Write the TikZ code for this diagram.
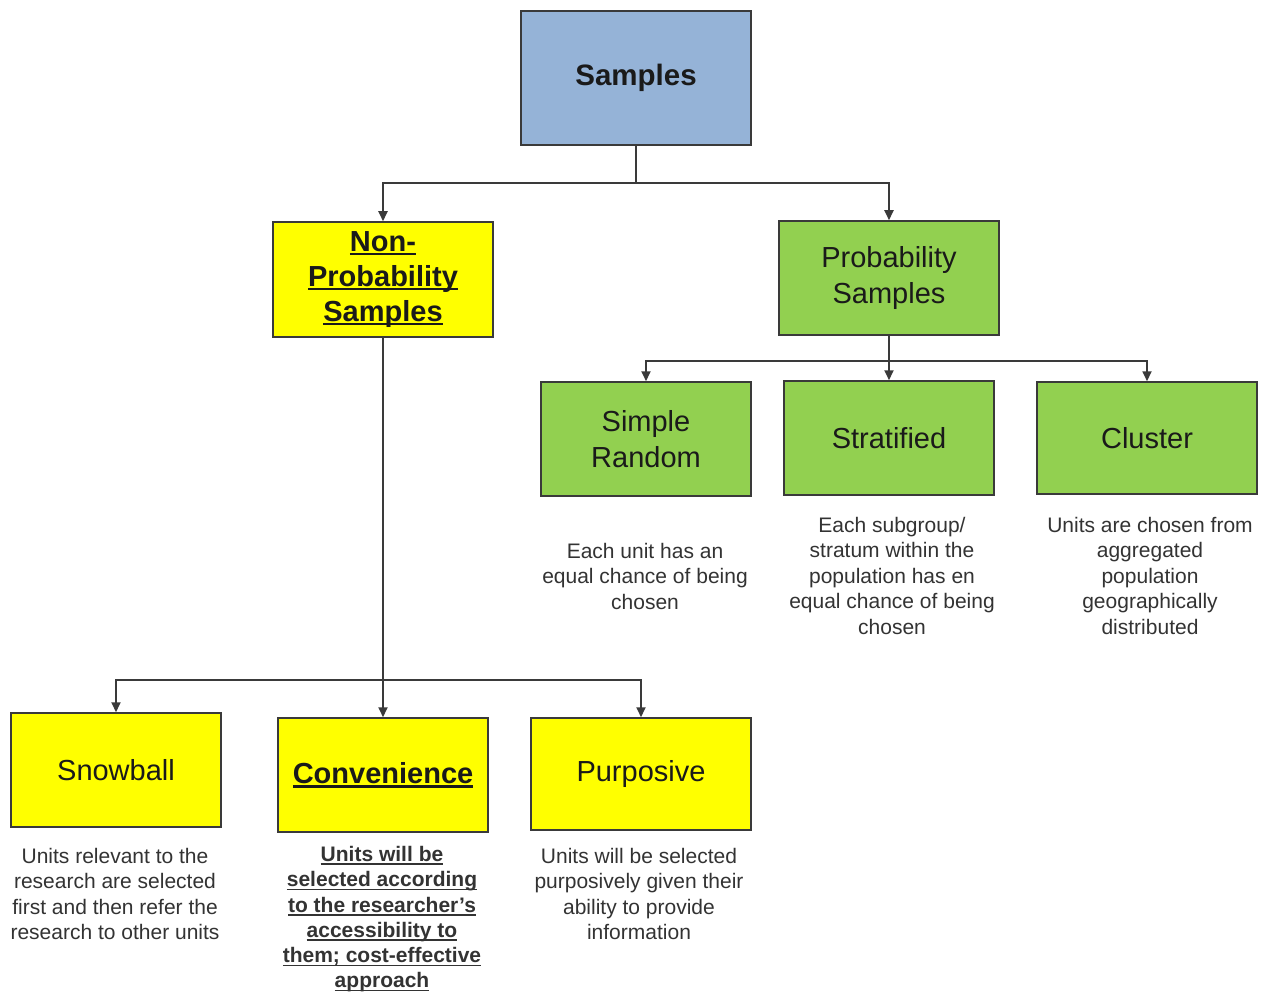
\documentclass[tikz,border=0pt]{standalone}
\usepackage{fontspec}
\setmainfont{Liberation Sans}
\usetikzlibrary{arrows.meta}
\definecolor{topblue}{HTML}{95B3D7}
\definecolor{leafgreen}{HTML}{92D050}
\definecolor{brightyellow}{HTML}{FFFF00}
\definecolor{edgegray}{HTML}{3A3A3A}
\definecolor{inkdark}{HTML}{1A1A1A}
\definecolor{notegray}{HTML}{333333}
% thick underline for a single line of text
\newcommand{\thickul}[2][2.2pt]{\setbox0\hbox{#2}\rlap{\color{inkdark}\rule[-4pt]{\wd0}{#1}}\box0}
\newcommand{\noteul}[1]{\setbox0\hbox{#1}\rlap{\color{notegray}\rule[-3.5pt]{\wd0}{1.5pt}}\box0}
\tikzset{
  box/.style={draw=edgegray, line width=1.5pt, inner sep=0pt, align=center,
    text=inkdark, font=\fontsize{29}{35.5}\selectfont},
  bluebox/.style={box, fill=topblue},
  greenbox/.style={box, fill=leafgreen},
  yellowbox/.style={box, fill=brightyellow},
  note/.style={align=center, text=notegray, inner sep=0pt,
    font=\fontsize{21}{25.5}\selectfont},
  link/.style={draw=edgegray, line width=1.8pt},
  arrowlink/.style={link, -{Triangle[length=10pt,width=9pt]}},
}
\begin{document}
\begin{tikzpicture}[x=1pt,y=-1pt]
\useasboundingbox[fill=white] (0,0) rectangle (1268,992);

% root
\node[bluebox, minimum width=230pt, minimum height=134pt,
  font=\fontsize{29.5}{34}\selectfont\bfseries] (samples) at (636,78) {Samples};

% second level
\node[yellowbox, minimum width=220pt, minimum height=115pt,
  font=\fontsize{29}{35}\selectfont\bfseries] (nonprob) at (383,279.5)
  {\thickul{Non-}\\\thickul{Probability}\\\thickul{Samples}};
\node[greenbox, minimum width=220pt, minimum height=114pt] (prob) at (889,278)
  {Probability\\Samples};

% probability branches
\node[greenbox, minimum width=210pt, minimum height=114pt] (simple) at (646,439)
  {Simple\\Random};
\node[greenbox, minimum width=210pt, minimum height=114pt] (strat) at (889,438)
  {Stratified};
\node[greenbox, minimum width=220pt, minimum height=112pt] (cluster) at (1147,438)
  {Cluster};

% non-probability branches
\node[yellowbox, minimum width=210pt, minimum height=114pt] (snow) at (116,770)
  {Snowball};
\node[yellowbox, minimum width=210pt, minimum height=114pt,
  font=\fontsize{29}{35}\selectfont\bfseries] (conv) at (383,775)
  {\thickul{Convenience}};
\node[yellowbox, minimum width=220pt, minimum height=112pt] (purp) at (641,774)
  {Purposive};

% descriptions
\node[note, anchor=north] (simplenote) at (645,543)
  {Each unit has an\\equal chance of being\\chosen};
\node[note, anchor=north] (stratnote) at (892,517)
  {Each subgroup/\\stratum within the\\population has en\\equal chance of being\\chosen};
\node[note, anchor=north] (clusternote) at (1150,517)
  {Units are chosen from\\aggregated\\population\\geographically\\distributed};
\node[note, anchor=north] (snownote) at (115,848)
  {Units relevant to the\\research are selected\\first and then refer the\\research to other units};
\node[note, anchor=north, font=\fontsize{21}{25.3}\selectfont\bfseries] (convnote) at (382,846)
  {\noteul{Units will be}\\\noteul{selected according}\\\noteul{to the researcher’s}\\%
   \noteul{accessibility to}\\\noteul{them; cost-effective}\\\noteul{approach}};
\node[note, anchor=north] (purpnote) at (639,848)
  {Units will be selected\\purposively given their\\ability to provide\\information};

% connectors from the root
\coordinate (rootjoin) at (samples.south |- 0,183);
\draw[link] (samples.south) -- (rootjoin);
\draw[arrowlink] (rootjoin) -| (nonprob.north);
\draw[arrowlink] (rootjoin) -| (prob.north);

% connectors below probability samples
\coordinate (probjoin) at (prob.south |- 0,361);
\draw[link] (prob.south) -- (probjoin);
\draw[arrowlink] (probjoin) -| (simple.north);
\draw[arrowlink] (probjoin) -- (strat.north);
\draw[arrowlink] (probjoin) -| (cluster.north);

% connectors below non-probability samples
\coordinate (nonjoin) at (nonprob.south |- 0,680);
\draw[link] (nonprob.south) -- (nonjoin);
\draw[arrowlink] (nonjoin) -| (snow.north);
\draw[arrowlink] (nonjoin) -- (conv.north);
\draw[arrowlink] (nonjoin) -| (purp.north);
\end{tikzpicture}
\end{document}
